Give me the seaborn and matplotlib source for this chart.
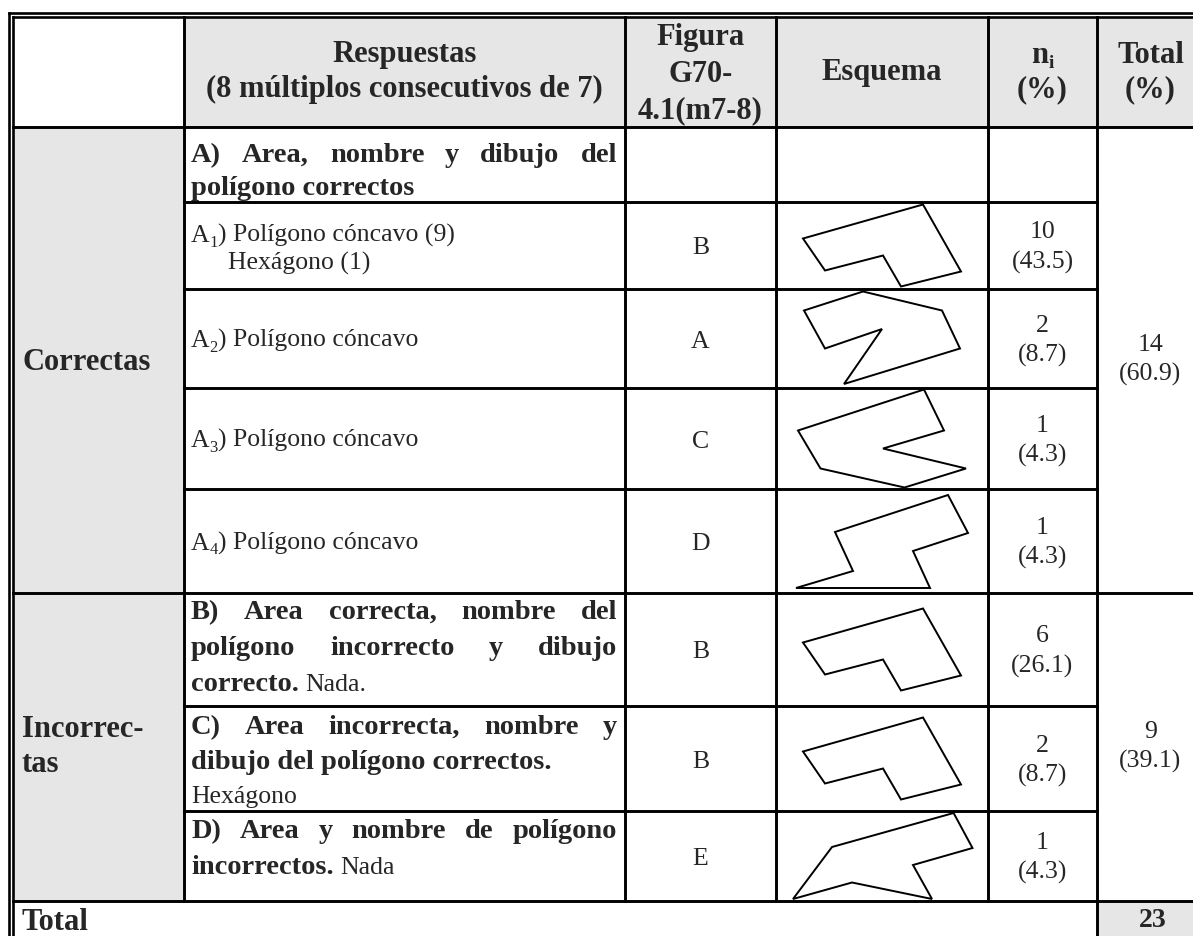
import matplotlib
matplotlib.use("Agg")
import matplotlib.pyplot as plt
from matplotlib.patches import Polygon, Rectangle
import seaborn as sns

# ---------------- data ----------------
header_resp = ["Respuestas", "(8 múltiplos consecutivos de 7)"]
header_fig = ["Figura", "G70-", "4.1(m7-8)"]
header_esq = "Esquema"
header_tot = ["Total", "(%)"]
group_labels = [["Correctas"], ["Incorrec-", "tas"]]
group_n = [14, 9]
group_pct = [60.9, 39.1]
total_label = "Total"
total_n = 23
figura = ["", "B", "A", "C", "D", "B", "B", "E"]
esquema = [None, "B", "A", "C", "D", "B", "B", "E"]
n_i = [None, 10, 2, 1, 1, 6, 2, 1]
pct_i = [None, 43.5, 8.7, 4.3, 4.3, 26.1, 8.7, 4.3]

# polygon sketches (vertex offsets from the cell centre, px, y downwards)
shape_B = [(-79, -7), (41, -41), (79, 26), (19, 41), (1, 10), (-57, 25)]
shape_A = [(-19, -47), (60, -28), (78, 10), (-38, 45.5), (0, -9.5), (-57, 10), (-78, -28)]
shape_C = [(42, -49), (62, -8), (1, 10), (84, 30), (22.5, 49), (-61.5, 30), (-84, -8)]
shape_D = [(66, -46), (86, -8), (31, 10), (48, 47), (-86, 47), (-29, 30), (-47, -9)]
shape_E = [(71.6, -43), (90.5, -8), (31, 9), (50, 43), (-30, 26.5), (-89, 43), (-50, -9)]
shapes = {"A": shape_A, "B": shape_B, "C": shape_C, "D": shape_D, "E": shape_E}

# response texts: each line = (runs, justified); run = (text, style)
responses = [
    [([("A) Area, nombre y dibujo del", "b")], True),
     ([("polígono correctos", "b")], False)],
    [([("A", "r"), ("1", "sub"), (") Polígono cóncavo (9)", "r")], False),
     ([("Hexágono (1)", "r")], False)],
    [([("A", "r"), ("2", "sub"), (") Polígono cóncavo", "r")], False)],
    [([("A", "r"), ("3", "sub"), (") Polígono cóncavo", "r")], False)],
    [([("A", "r"), ("4", "sub"), (") Polígono cóncavo", "r")], False)],
    [([("B) Area correcta, nombre del", "b")], True),
     ([("polígono incorrecto y dibujo", "b")], True),
     ([("correcto.", "b"), (" Nada.", "r")], False)],
    [([("C) Area incorrecta, nombre y", "b")], True),
     ([("dibujo del polígono correctos.", "b")], False),
     ([("Hexágono", "r")], False)],
    [([("D) Area y nombre de polígono", "b")], True),
     ([("incorrectos.", "b"), (" Nada", "r")], False)],
]

# ---------------- layout ----------------
X = [13.3, 184, 625, 776, 988, 1097, 1210]
Y = [17.3, 127, 202, 289, 388, 489, 593, 706, 811, 901, 960]
resp_base = [[162, 195], [242, 270], [347], [447], [549.5], [619, 655, 691],
             [734, 769, 803], [838, 874]]
line_indent = {(1, 1): 37}
GREY = "#e6e6e6"
LW = 2.1
HDR = 22
BODY = 18.5
BOLDB = 20.5
STY = {"b": (BOLDB, "bold", 0), "r": (BODY, "normal", 0), "sub": (12, "normal", 5)}

sns.set_theme(style="white")
plt.rcParams["font.family"] = ["Liberation Serif", "DejaVu Serif"]

fig = plt.figure(figsize=(11.93, 9.36), dpi=100)
ax = fig.add_axes([0, 0, 1, 1])
ax.set_xlim(0, 1193)
ax.set_ylim(936, 0)
ax.axis("off")
renderer = fig.canvas.get_renderer()


def tw(s, size, weight):
    t = ax.text(0, 0, s, fontsize=size, fontweight=weight)
    w = t.get_window_extent(renderer).width
    t.remove()
    return w


def draw_runs(x, y, runs, ha="left"):
    items = []
    for s, size, weight, dy in runs:
        lead = 0.0
        if s.startswith(" "):
            lead = 0.25 * size * 100 / 72
            s = s.lstrip(" ")
        items.append((s, size, weight, dy, lead, tw(s, size, weight)))
    total = sum(it[4] + it[5] for it in items)
    cx = x - total / 2 if ha == "center" else x
    for s, size, weight, dy, lead, w in items:
        cx += lead
        ax.text(cx, y + dy, s, fontsize=size, fontweight=weight,
                ha="left", va="baseline", zorder=4)
        cx += w


def draw_justified(x0, x1, y, s, size, weight):
    words = s.split()
    ws = [tw(w, size, weight) for w in words]
    gap = (x1 - x0 - sum(ws)) / (len(words) - 1)
    cx = x0
    for w, wd in zip(words, ws):
        ax.text(cx, y, w, fontsize=size, fontweight=weight,
                ha="left", va="baseline", zorder=4)
        cx += wd + gap


def ctext(x, y, s, size=BODY, weight="normal"):
    ax.text(x, y, s, fontsize=size, fontweight=weight, ha="center",
            va="baseline", zorder=4)


def hline(y, x0, x1, lw=LW):
    ax.plot([x0, x1], [y, y], color="black", lw=lw,
            solid_capstyle="projecting", zorder=3)


def vline(x, y0, y1, lw=LW):
    ax.plot([x, x], [y0, y1], color="black", lw=lw,
            solid_capstyle="projecting", zorder=3)


# fills
ax.add_patch(Rectangle((X[1], Y[0]), X[6] - X[1], Y[1] - Y[0],
                       facecolor=GREY, edgecolor="none", zorder=0))
ax.add_patch(Rectangle((X[0], Y[1]), X[1] - X[0], Y[9] - Y[1],
                       facecolor=GREY, edgecolor="none", zorder=0))
ax.add_patch(Rectangle((X[5], Y[9]), X[6] - X[5], Y[10] - Y[9],
                       facecolor=GREY, edgecolor="none", zorder=0))

# outer double frame
vline(8.7, 13.3, 960, lw=1.9)
hline(13.3, 8.7, 1210, lw=1.9)
vline(X[0], Y[0], 960, lw=1.9)
hline(Y[0], X[0], 1210, lw=1.9)

# inner grid
hline(Y[1], X[0], 1210)
for yy in Y[2:6] + Y[7:9]:
    hline(yy, X[1], X[5])
hline(Y[6], X[0], 1210)
hline(Y[9], X[0], 1210)
for xx in X[1:5]:
    vline(xx, Y[0], Y[9])
vline(X[5], Y[0], 960)

# header
cx = [(X[i] + X[i + 1]) / 2 for i in range(6)]
ctext(cx[1], 62, header_resp[0], HDR, "bold")
ctext(cx[1], 97, header_resp[1], HDR, "bold")
for s, yb in zip(header_fig, [45, 82, 118]):
    ctext(cx[2], yb, s, HDR, "bold")
ctext(cx[3], 80, header_esq, HDR, "bold")
draw_runs(cx[4], 63, [("n", HDR, "bold", 0), ("i", 14, "bold", 5)], ha="center")
ctext(cx[4], 97, "(%)", HDR, "bold")
ctext(1150.5, 63, header_tot[0], HDR, "bold")
ctext(1150.5, 97, header_tot[1], HDR, "bold")

# rows
for r in range(8):
    top, bot = Y[r + 1], Y[r + 2]
    c = (top + bot) / 2
    for li, (runs, just) in enumerate(responses[r]):
        yb = resp_base[r][li]
        x0 = 191 + line_indent.get((r, li), 0)
        if just:
            s, st = runs[0]
            draw_justified(x0, 617, yb, s, STY[st][0], STY[st][1])
        else:
            draw_runs(x0, yb, [(s,) + STY[st] for s, st in runs])
    if figura[r]:
        ctext(cx[2], c + 9, figura[r])
    if esquema[r]:
        pts = [(cx[3] + dx, c + dy) for dx, dy in shapes[esquema[r]]]
        ax.add_patch(Polygon(pts, closed=True, facecolor="none",
                             edgecolor="black", lw=1.4, zorder=2))
    if n_i[r] is not None:
        ctext(cx[4], c - 7, f"{n_i[r]}")
        ctext(cx[4], c + 23, f"({pct_i[r]:.1f})")

# groups
for g, (r0, r1) in enumerate([(0, 5), (5, 8)]):
    top, bot = Y[r0 + 1], Y[r1 + 1]
    c = (top + bot) / 2
    lab = group_labels[g]
    if len(lab) == 1:
        ax.text(22, c + 10.5, lab[0], fontsize=HDR, fontweight="bold",
                va="baseline", zorder=4)
    else:
        for k, s in enumerate(lab):
            ax.text(22, c - 10 + 35 * k, s, fontsize=HDR, fontweight="bold",
                    va="baseline", zorder=4)
    ctext(1150.5, c - 9, f"{group_n[g]}")
    ctext(1150.5, c + 21, f"({group_pct[g]:.1f})")

# total row
ax.text(22, 930, total_label, fontsize=HDR, fontweight="bold",
        va="baseline", zorder=4)
ctext(1153, 927, f"{total_n}", 20, "bold")

fig.savefig("out.png", dpi=100)
